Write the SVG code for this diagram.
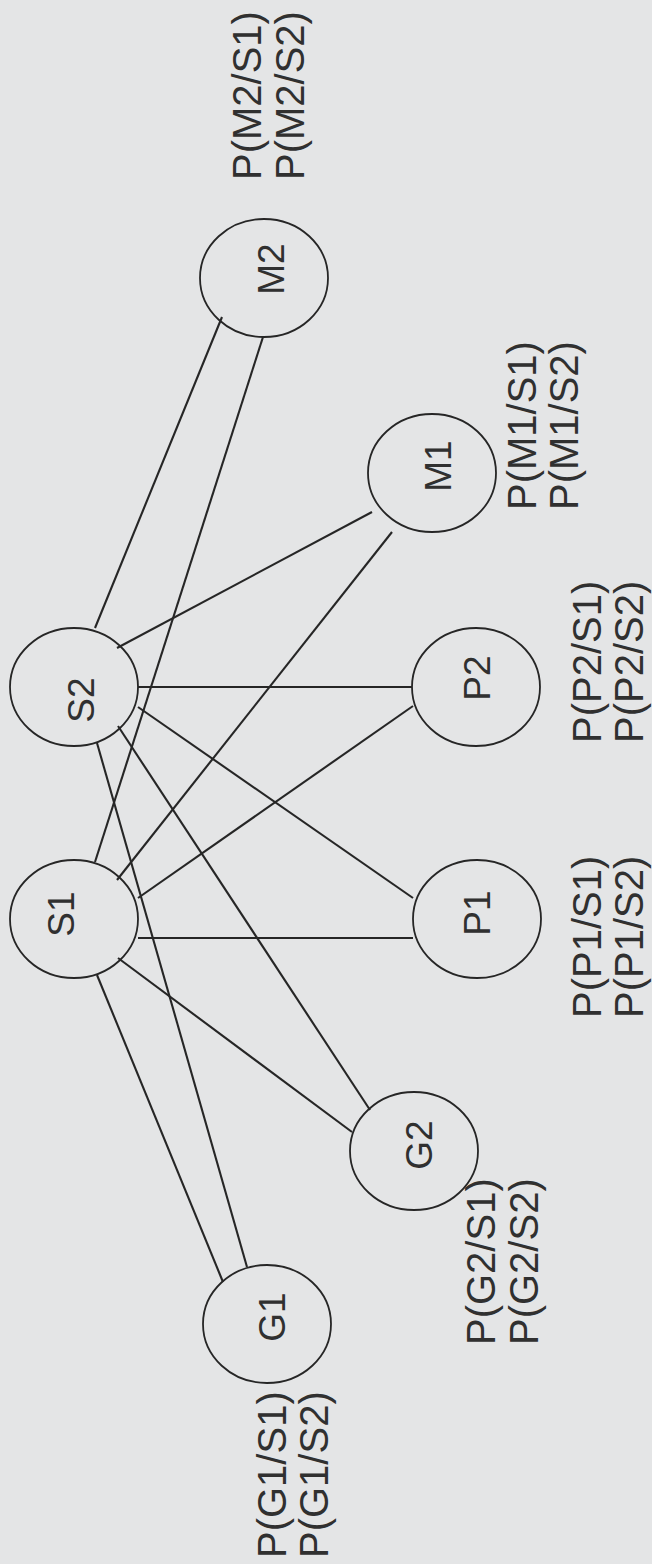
<svg xmlns="http://www.w3.org/2000/svg" width="652" height="1564" viewBox="0 0 652 1564">
<style>
.bg{fill:#e4e5e6}
.node ellipse{fill:none;stroke:#262626;stroke-width:1.8}
.lbl{font-family:"Liberation Sans",Arial,sans-serif;font-size:37px;fill:#303030;text-anchor:middle}
.prob{font-family:"Liberation Sans",Arial,sans-serif;font-size:40px;fill:#303030}
#connectors line{stroke:#262626;stroke-width:2.1}
</style>
<rect class="bg" x="0" y="0" width="652" height="1564"/>
<g id="connectors">
<line x1="95" y1="628" x2="222" y2="317"/>
<line x1="95" y1="862" x2="263" y2="337"/>
<line x1="117" y1="648" x2="372" y2="512"/>
<line x1="117" y1="880" x2="392" y2="532"/>
<line x1="138" y1="687" x2="412" y2="687"/>
<line x1="138" y1="898" x2="413" y2="706"/>
<line x1="138" y1="707" x2="413" y2="898"/>
<line x1="138" y1="938" x2="413" y2="938"/>
<line x1="118" y1="726" x2="370" y2="1110"/>
<line x1="118" y1="958" x2="352" y2="1132"/>
<line x1="97" y1="743" x2="247" y2="1267"/>
<line x1="97" y1="975" x2="223" y2="1282"/>
</g>
<g id="node-M2" class="node">
<ellipse cx="264" cy="278" rx="64" ry="59"/>
<text class="lbl" transform="translate(284,269) rotate(-90)">M2</text>
<text class="prob" transform="translate(261,180) rotate(-90)">P(M2/S1)<tspan x="0" dy="43">P(M2/S2)</tspan></text>
</g>
<g id="node-M1" class="node">
<ellipse cx="432" cy="473" rx="64" ry="59"/>
<text class="lbl" transform="translate(451,466) rotate(-90)">M1</text>
<text class="prob" transform="translate(536,510) rotate(-90)">P(M1/S1)<tspan x="0" dy="42">P(M1/S2)</tspan></text>
</g>
<g id="node-S2" class="node">
<ellipse cx="74" cy="687" rx="64" ry="59"/>
<text class="lbl" transform="translate(94,700) rotate(-90)">S2</text>
</g>
<g id="node-S1" class="node">
<ellipse cx="74" cy="919" rx="64" ry="59"/>
<text class="lbl" transform="translate(74,914) rotate(-90)">S1</text>
</g>
<g id="node-P2" class="node">
<ellipse cx="476" cy="687" rx="64" ry="59"/>
<text class="lbl" transform="translate(490,678) rotate(-90)">P2</text>
<text class="prob" transform="translate(601,743) rotate(-90)">P(P2/S1)<tspan x="0" dy="42">P(P2/S2)</tspan></text>
</g>
<g id="node-P1" class="node">
<ellipse cx="477" cy="919" rx="64" ry="59"/>
<text class="lbl" transform="translate(490,913) rotate(-90)">P1</text>
<text class="prob" transform="translate(601,1018) rotate(-90)">P(P1/S1)<tspan x="0" dy="42">P(P1/S2)</tspan></text>
</g>
<g id="node-G2" class="node">
<ellipse cx="414" cy="1151" rx="64" ry="59"/>
<text class="lbl" transform="translate(432,1145) rotate(-90)">G2</text>
<text class="prob" transform="translate(495,1345) rotate(-90)">P(G2/S1)<tspan x="0" dy="43">P(G2/S2)</tspan></text>
</g>
<g id="node-G1" class="node">
<ellipse cx="267" cy="1324" rx="64" ry="59"/>
<text class="lbl" transform="translate(285,1317) rotate(-90)">G1</text>
<text class="prob" transform="translate(286,1558) rotate(-90)">P(G1/S1)<tspan x="0" dy="42">P(G1/S2)</tspan></text>
</g>
</svg>
